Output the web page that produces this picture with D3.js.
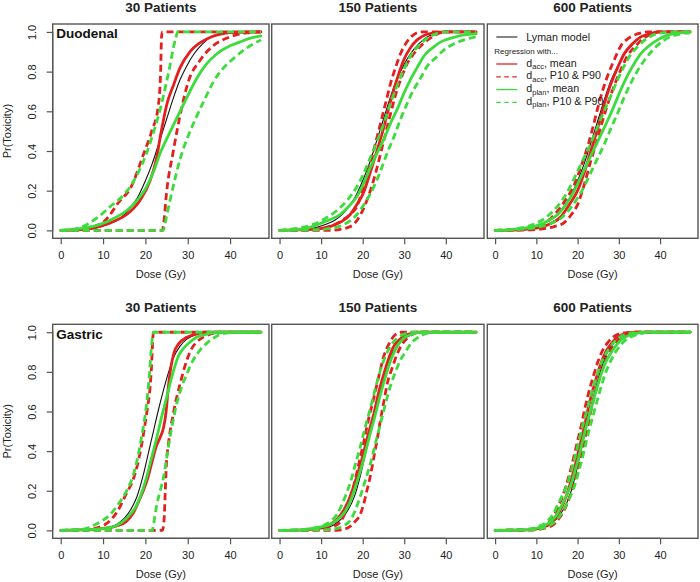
<!DOCTYPE html>
<html><head><meta charset="utf-8">
<script src="https://cdn.jsdelivr.net/npm/d3@7"></script>
<style>
html,body{margin:0;padding:0;background:#fff;}
svg{display:block;font-family:"Liberation Sans",Arial,sans-serif;}
</style></head>
<body><svg id="chart" width="700" height="582"></svg>
<script>
// ---------- labels ----------
const panelTitles = ["30 Patients", "150 Patients", "600 Patients"];
const sites = ["Duodenal", "Gastric"];
const xTicks = [0, 10, 20, 30, 40];
const yTicks = [0, 0.2, 0.4, 0.6, 0.8, 1.0];
const yTickLabels = ["0.0", "0.2", "0.4", "0.6", "0.8", "1.0"];
const xLabel = "Dose (Gy)";
const yLabel = "Pr(Toxicity)";
const xDataRange = [0, 47.3];

// ---------- Lyman model (per site) [dose, probability] ----------
const lymanDuodenal = [[0,0],[5,0.002],[8,0.01],[11,0.03],[13.2,0.05],[15.5,0.09],[18,0.16],[20,0.25],[21.5,0.33],[23.5,0.46],[25,0.56],[26.5,0.66],[28.2,0.76],[29.8,0.83],[31.5,0.89],[33.5,0.94],[35.5,0.975],[38,0.993],[41,1],[47.3,1]];
const lymanGastric = [[0,0],[7,0.002],[10,0.008],[13.2,0.03],[15,0.06],[16.4,0.1],[18,0.17],[19.5,0.28],[20.7,0.39],[21.9,0.5],[23.1,0.61],[24.3,0.71],[25.5,0.8],[26.6,0.87],[28.2,0.93],[29.8,0.965],[31.5,0.985],[33,0.995],[35,1],[47.3,1]];

// ---------- Duodenal, 30 patients ----------
const duo30AccMean = [[0,0],[5,0.004],[9.3,0.02],[13,0.05],[15.6,0.08],[18.7,0.15],[21.1,0.25],[22.7,0.37],[23.5,0.47],[24.3,0.56],[25,0.63],[26.6,0.73],[28.2,0.82],[30.5,0.9],[32.5,0.94],[34.5,0.965],[37,0.985],[40,0.997],[47.3,1]];
const duo30AccP10 = [[0,0],[6,0.01],[10,0.04],[14,0.15],[16.4,0.21],[19.5,0.38],[21.5,0.5],[23,0.62],[23.6,0.8],[23.8,0.97],[24,1],[47.3,1]];
const duo30AccP90 = [[0,0],[24,0],[24.3,0.03],[25,0.19],[26.6,0.4],[28.6,0.62],[30,0.74],[33,0.86],[36,0.93],[40,0.975],[44,0.995],[47.3,1]];
const duo30PlanMean = [[0,0],[5,0.01],[9.3,0.03],[12.5,0.06],[15.6,0.1],[18,0.15],[20.3,0.22],[22,0.3],[23.5,0.39],[25,0.46],[26.6,0.53],[28.2,0.6],[29.8,0.67],[32.1,0.765],[34.5,0.84],[36.9,0.89],[40,0.93],[42.4,0.95],[45,0.97],[47.3,0.98]];
const duo30PlanP10 = [[0,0],[3,0.005],[6.2,0.03],[9,0.07],[11.7,0.12],[14,0.16],[16.4,0.22],[18.5,0.3],[20.3,0.39],[22,0.5],[23.5,0.61],[24.7,0.72],[25.8,0.83],[26.6,0.92],[27.2,0.97],[27.6,1],[47.3,1]];
const duo30PlanP90 = [[0,0],[24.2,0],[25,0.07],[25.8,0.15],[27,0.26],[28.2,0.36],[30,0.47],[32,0.57],[34,0.66],[36.1,0.75],[38.5,0.82],[41,0.87],[44,0.92],[47.3,0.96]];

// ---------- Duodenal, 150 patients ----------
const duo150AccMean = [[0,0],[8,0.005],[12.2,0.02],[15,0.045],[17,0.08],[18.6,0.13],[20.2,0.19],[21.5,0.27],[22.7,0.35],[24,0.44],[25.1,0.52],[26.3,0.62],[27.5,0.71],[28.7,0.79],[29.9,0.86],[31.5,0.92],[33.1,0.96],[35,0.985],[37,0.995],[40,1],[47.3,1]];
const duo150AccP10 = [[0,0],[8,0.003],[12.2,0.02],[15,0.05],[17,0.08],[18.6,0.12],[20.2,0.22],[21.9,0.34],[23.1,0.44],[24.3,0.54],[25.5,0.64],[26.7,0.74],[27.9,0.82],[29.1,0.89],[30.5,0.945],[31.9,0.98],[34,1],[47.3,1]];
const duo150AccP90 = [[0,0],[12,0],[14.6,0.005],[16.5,0.015],[17.8,0.03],[19.5,0.08],[21,0.15],[22.3,0.23],[23.5,0.32],[24.7,0.42],[25.9,0.52],[27.1,0.62],[28.3,0.71],[29.5,0.78],[30.7,0.84],[32.3,0.89],[34,0.93],[36,0.965],[38,0.99],[40,1],[47.3,1]];
const duo150PlanMean = [[0,0],[5,0.005],[8.1,0.02],[11,0.045],[14.6,0.08],[16.6,0.12],[18.6,0.17],[20.3,0.24],[21.9,0.32],[23.5,0.39],[25.1,0.46],[26.7,0.54],[28.3,0.61],[29.9,0.69],[31.5,0.76],[33.1,0.82],[34.8,0.88],[36.8,0.92],[38.8,0.95],[41.5,0.97],[44.4,0.985],[47.3,0.99]];
const duo150PlanP10 = [[0,0],[4,0.01],[8.1,0.03],[11,0.06],[13.8,0.1],[16.2,0.15],[18.6,0.22],[20.3,0.29],[21.9,0.37],[23.5,0.45],[25.1,0.54],[26.7,0.64],[28.3,0.73],[29.9,0.81],[31.5,0.88],[33.5,0.93],[35.6,0.97],[37.6,0.99],[39.6,1],[47.3,1]];
const duo150PlanP90 = [[0,0],[9,0.003],[12.2,0.01],[15.5,0.03],[18.6,0.08],[20.6,0.14],[22.7,0.22],[24.3,0.3],[25.9,0.39],[27.5,0.47],[29.1,0.56],[30.7,0.64],[32.3,0.71],[34,0.77],[35.6,0.83],[37.6,0.87],[39.6,0.91],[42,0.94],[44.4,0.96],[47.3,0.975]];

// ---------- Duodenal, 600 patients ----------
const duo600AccMean = [[0,0],[6,0.003],[10.3,0.012],[13,0.03],[16,0.07],[18,0.13],[20,0.2],[21.6,0.29],[23.2,0.4],[24.4,0.48],[25.6,0.57],[26.8,0.66],[28.1,0.74],[29.7,0.82],[31.3,0.89],[33.3,0.94],[35.3,0.975],[37.5,0.99],[39.4,1],[47.3,1]];
const duo600AccP10 = [[0,0],[6,0.004],[9.5,0.015],[12,0.035],[14.4,0.08],[17,0.15],[19.2,0.23],[20.8,0.32],[22.4,0.42],[23.6,0.51],[24.8,0.61],[26,0.7],[27.3,0.78],[28.9,0.86],[30.5,0.93],[32.5,0.97],[34.5,0.99],[37,1],[47.3,1]];
const duo600AccP90 = [[0,0],[8,0.002],[11.5,0.008],[14.5,0.02],[16.8,0.04],[18.5,0.08],[20,0.13],[21.6,0.23],[23.2,0.35],[24.4,0.43],[25.6,0.52],[27.2,0.63],[28.9,0.73],[30.5,0.81],[32.1,0.88],[34.1,0.93],[36.1,0.97],[38,0.99],[40.2,1],[47.3,1]];
const duo600PlanMean = [[0,0],[5,0.006],[10.3,0.025],[13,0.05],[15.2,0.08],[17.2,0.13],[19.2,0.2],[20.8,0.27],[22.4,0.34],[24,0.41],[25.6,0.48],[27.2,0.55],[28.9,0.63],[30.5,0.71],[32.1,0.78],[33.7,0.84],[35.3,0.89],[37.3,0.93],[39.4,0.96],[42,0.985],[44.2,0.995],[47.3,1]];
const duo600PlanP10 = [[0,0],[5,0.008],[9.3,0.03],[12,0.06],[14.2,0.1],[16.2,0.15],[18.2,0.22],[19.8,0.29],[21.4,0.36],[23,0.43],[24.6,0.51],[26.2,0.59],[27.9,0.67],[29.5,0.75],[31.1,0.82],[32.7,0.88],[34.3,0.92],[36.3,0.96],[38.4,0.985],[41,0.997],[44,1],[47.3,1]];
const duo600PlanP90 = [[0,0],[6,0.005],[11.3,0.02],[14,0.04],[16.2,0.065],[18.2,0.11],[20.2,0.17],[21.8,0.23],[23.4,0.3],[25,0.37],[26.6,0.44],[28.2,0.52],[29.9,0.6],[31.5,0.68],[33.1,0.75],[34.7,0.81],[36.3,0.86],[38.3,0.91],[40.4,0.95],[43,0.98],[45,0.99],[47.3,0.995]];

// ---------- Gastric, 30 patients ----------
const gas30AccMean = [[0,0],[8,0.005],[11,0.012],[13.2,0.022],[15.5,0.045],[17.2,0.09],[18.5,0.15],[19.5,0.2],[20.5,0.26],[21.5,0.34],[22.5,0.42],[23.5,0.47],[24.3,0.52],[24.9,0.6],[25.4,0.72],[26,0.82],[26.8,0.9],[27.8,0.94],[29.8,0.975],[32,0.99],[34,1],[47.3,1]];
const gas30AccP10 = [[0,0],[6,0.005],[9,0.015],[11.7,0.05],[13.5,0.1],[15.6,0.19],[17,0.25],[18,0.32],[19,0.42],[19.8,0.52],[20.5,0.62],[21.1,0.72],[21.5,0.85],[21.7,0.95],[21.9,1],[47.3,1]];
const gas30AccP90 = [[0,0],[24,0],[24.4,0.05],[24.7,0.2],[25,0.35],[25.4,0.43],[26.6,0.59],[28.2,0.74],[29.8,0.86],[31,0.92],[32.1,0.95],[33.7,0.975],[35.3,0.99],[38,1],[47.3,1]];
const gas30PlanMean = [[0,0],[8,0.005],[11,0.012],[13.2,0.025],[15.5,0.06],[18,0.13],[19.3,0.2],[20.3,0.27],[21.5,0.37],[22.7,0.47],[23.8,0.57],[25,0.67],[26.3,0.78],[27.8,0.88],[29.5,0.93],[30.5,0.95],[32.1,0.975],[34.5,0.99],[37,1],[47.3,1]];
const gas30PlanP10 = [[0,0],[5,0.005],[7.7,0.025],[9.5,0.045],[11.7,0.08],[13.5,0.13],[15.6,0.2],[17,0.27],[18,0.35],[19,0.46],[19.8,0.56],[20.5,0.68],[21,0.8],[21.4,0.92],[21.7,0.98],[21.9,1],[47.3,1]];
const gas30PlanP90 = [[0,0],[21.6,0],[22,0.04],[22.7,0.13],[23.5,0.2],[24.3,0.27],[25,0.36],[25.8,0.47],[26.6,0.56],[27.4,0.64],[28.5,0.72],[29.8,0.79],[31.3,0.86],[32.9,0.91],[34.8,0.95],[36.8,0.98],[39,0.995],[41,1],[47.3,1]];

// ---------- Gastric, 150 patients ----------
const gas150AccMean = [[0,0],[6,0.003],[8.1,0.008],[10,0.015],[12.2,0.03],[14,0.06],[15.4,0.1],[16.6,0.15],[17.8,0.22],[19,0.3],[20.2,0.39],[21.4,0.49],[22.7,0.59],[23.9,0.7],[25.1,0.79],[26.3,0.87],[27.5,0.93],[28.7,0.96],[29.9,0.98],[31.5,0.993],[33.1,1],[47.3,1]];
const gas150AccP10 = [[0,0],[8,0.003],[12,0.015],[14,0.03],[15.4,0.07],[16.6,0.14],[17.8,0.22],[19,0.33],[20.2,0.44],[21.4,0.56],[22.7,0.67],[23.9,0.78],[25.1,0.88],[26.3,0.94],[27.5,0.98],[29.1,1],[47.3,1]];
const gas150AccP90 = [[0,0],[13.8,0],[15.5,0.005],[17,0.02],[18.2,0.045],[19.4,0.08],[20.2,0.13],[21,0.2],[21.9,0.28],[22.7,0.37],[23.5,0.46],[24.3,0.56],[25.1,0.65],[25.9,0.74],[27.1,0.82],[28.3,0.89],[29.5,0.94],[30.7,0.97],[32,0.99],[33.5,1],[47.3,1]];
const gas150PlanMean = [[0,0],[6,0.004],[8.1,0.01],[10,0.018],[12.2,0.03],[14,0.055],[15.6,0.09],[16.9,0.14],[18.1,0.21],[19.3,0.29],[20.5,0.38],[21.7,0.48],[23,0.58],[24.2,0.68],[25.4,0.77],[26.6,0.85],[27.8,0.91],[29,0.95],[30.2,0.975],[32,0.99],[34,1],[47.3,1]];
const gas150PlanP10 = [[0,0],[6,0.005],[10.6,0.025],[12.2,0.045],[13.8,0.08],[15.4,0.15],[17,0.24],[18.2,0.33],[19.4,0.42],[20.6,0.52],[21.9,0.62],[23.1,0.72],[24.3,0.81],[25.5,0.88],[26.7,0.93],[28.3,0.97],[29.9,0.99],[32,1],[47.3,1]];
const gas150PlanP90 = [[0,0],[10,0.002],[13.8,0.01],[15.5,0.025],[17,0.05],[18.2,0.1],[19.4,0.17],[20.6,0.25],[21.9,0.34],[23.1,0.44],[24.3,0.54],[25.5,0.64],[26.7,0.73],[27.9,0.8],[29.1,0.86],[30.3,0.9],[31.5,0.94],[33.1,0.97],[34.8,0.99],[37,1],[47.3,1]];

// ---------- Gastric, 600 patients ----------
const gas600AccMean = [[0,0],[8,0.003],[11.1,0.013],[13.5,0.035],[14.8,0.065],[16,0.11],[17.2,0.17],[18.4,0.25],[19.2,0.31],[20,0.38],[20.8,0.45],[21.6,0.52],[22.4,0.6],[23.2,0.67],[24.4,0.76],[25.6,0.84],[26.8,0.9],[28.1,0.94],[29.3,0.97],[30.5,0.985],[32,0.995],[34,1],[47.3,1]];
const gas600AccP10 = [[0,0],[8,0.004],[10.4,0.015],[12.8,0.04],[14.1,0.07],[15.3,0.12],[16.5,0.18],[17.7,0.26],[18.5,0.32],[19.3,0.39],[20.1,0.46],[20.9,0.53],[21.7,0.61],[22.5,0.68],[23.7,0.77],[24.9,0.85],[26.1,0.91],[27.4,0.95],[28.6,0.975],[29.8,0.99],[31.5,0.997],[33.5,1],[47.3,1]];
const gas600AccP90 = [[0,0],[9,0.002],[11.8,0.01],[14.2,0.03],[15.5,0.06],[16.7,0.1],[17.9,0.16],[19.1,0.24],[19.9,0.3],[20.7,0.37],[21.5,0.44],[22.3,0.51],[23.1,0.59],[23.9,0.66],[25.1,0.75],[26.3,0.83],[27.5,0.89],[28.8,0.935],[30,0.965],[31.2,0.983],[32.7,0.994],[35,1],[47.3,1]];
const gas600PlanMean = [[0,0],[7.9,0.004],[11.1,0.017],[13.5,0.045],[14.8,0.075],[16,0.12],[17.4,0.18],[18.7,0.25],[19.5,0.31],[20.3,0.37],[21.1,0.44],[21.9,0.51],[22.7,0.57],[23.5,0.63],[24.7,0.72],[25.9,0.8],[27.1,0.86],[28.4,0.905],[29.6,0.94],[30.8,0.965],[32.5,0.985],[34.5,0.995],[37,1],[47.3,1]];
const gas600PlanP10 = [[0,0],[7,0.004],[10.3,0.018],[12.7,0.047],[14,0.08],[15.2,0.13],[16.6,0.19],[17.9,0.26],[18.7,0.32],[19.5,0.38],[20.3,0.45],[21.1,0.52],[21.9,0.58],[22.7,0.64],[23.9,0.73],[25.1,0.81],[26.3,0.87],[27.6,0.915],[28.8,0.95],[30,0.972],[31.7,0.99],[33.7,0.997],[36,1],[47.3,1]];
const gas600PlanP90 = [[0,0],[9,0.003],[11.9,0.014],[14.3,0.04],[15.6,0.07],[16.8,0.11],[18.2,0.17],[19.5,0.24],[20.3,0.3],[21.1,0.36],[21.9,0.43],[22.7,0.5],[23.5,0.56],[24.3,0.62],[25.5,0.71],[26.7,0.79],[27.9,0.85],[29.2,0.9],[30.4,0.935],[31.6,0.96],[33.3,0.98],[35.3,0.993],[38,1],[47.3,1]];

// ---------- legend ----------
const legendItems = [
  {main: "d", sub: "acc", rest: ", mean", key: "accMean"},
  {main: "d", sub: "acc", rest: ", P10 & P90", key: "accP"},
  {main: "d", sub: "plan", rest: ", mean", key: "planMean"},
  {main: "d", sub: "plan", rest: ", P10 & P90", key: "planP"}
];

// ---------- assemble ----------
const RED = "#e31f1f", GREEN = "#3bdc3b";
const styles = {
  lyman: {color: "#111", w: 1.1, dash: null},
  accMean: {color: RED, w: 2.8, dash: null},
  accP: {color: RED, w: 2.8, dash: "7,4"},
  planMean: {color: GREEN, w: 2.8, dash: null},
  planP: {color: GREEN, w: 2.8, dash: "7,4"}
};
function panelSeries(lyman, am, a10, a90, pm, p10, p90) {
  return [
    {data: lyman, s: "lyman"},
    {data: am, s: "accMean"}, {data: a10, s: "accP"}, {data: a90, s: "accP"},
    {data: pm, s: "planMean"}, {data: p10, s: "planP"}, {data: p90, s: "planP"}
  ];
}
const panelData = [
  [panelSeries(lymanDuodenal, duo30AccMean, duo30AccP10, duo30AccP90, duo30PlanMean, duo30PlanP10, duo30PlanP90),
   panelSeries(lymanDuodenal, duo150AccMean, duo150AccP10, duo150AccP90, duo150PlanMean, duo150PlanP10, duo150PlanP90),
   panelSeries(lymanDuodenal, duo600AccMean, duo600AccP10, duo600AccP90, duo600PlanMean, duo600PlanP10, duo600PlanP90)],
  [panelSeries(lymanGastric, gas30AccMean, gas30AccP10, gas30AccP90, gas30PlanMean, gas30PlanP10, gas30PlanP90),
   panelSeries(lymanGastric, gas150AccMean, gas150AccP10, gas150AccP90, gas150PlanMean, gas150PlanP10, gas150PlanP90),
   panelSeries(lymanGastric, gas600AccMean, gas600AccP10, gas600AccP90, gas600PlanMean, gas600PlanP10, gas600PlanP90)]
];

const svg = d3.select("#chart");
const TXT = "#222";
const colsPx = [[52.7, 269], [271.7, 484], [487.3, 698]];
const rowsPx = [[24, 238.3], [324.3, 538.3]];
const xPad = (xDataRange[1] - xDataRange[0]) * 0.04;
const xDomain = [xDataRange[0] - xPad, xDataRange[1] + xPad];
const yDomain = [-0.04, 1.04];

rowsPx.forEach((rp, ri) => {
  colsPx.forEach((cp, ci) => {
    const x = d3.scaleLinear().domain(xDomain).range(cp);
    const y = d3.scaleLinear().domain(yDomain).range([rp[1], rp[0]]);
    const g = svg.append("g");
    const line = d3.line().x(d => x(d[0])).y(d => y(d[1])).curve(d3.curveMonotoneX);

    // curves
    panelData[ri][ci].forEach(sr => {
      const st = styles[sr.s];
      g.append("path").attr("d", line(sr.data))
        .attr("fill", "none").attr("stroke", st.color)
        .attr("stroke-width", st.w)
        .attr("stroke-dasharray", st.dash)
        .attr("stroke-linecap", st.dash ? "butt" : "round")
        .attr("stroke-linejoin", "round");
    });

    // box
    g.append("rect").attr("x", cp[0]).attr("y", rp[0])
      .attr("width", cp[1] - cp[0]).attr("height", rp[1] - rp[0])
      .attr("fill", "none").attr("stroke", "#555").attr("stroke-width", 1.4);

    // x axis
    const xa = g.append("g").attr("transform", `translate(0,${rp[1]})`)
      .call(d3.axisBottom(x).tickValues(xTicks).tickSize(6).tickPadding(7).tickFormat(d3.format("d")));
    xa.select(".domain").attr("d", `M${x(xTicks[0])},0H${x(xTicks[xTicks.length-1])}`).attr("stroke", "#555").attr("stroke-width", 1.2);
    xa.selectAll(".tick line").attr("stroke", "#555").attr("stroke-width", 1.2);
    xa.selectAll(".tick text").attr("fill", TXT).style("font-size", "11px")
      .style("font-family", "'Liberation Sans',Arial,sans-serif");

    g.append("text").attr("x", (cp[0] + cp[1]) / 2).attr("y", rp[1] + 40)
      .attr("text-anchor", "middle").attr("fill", TXT).style("font-size", "11px").text(xLabel);

    // title
    g.append("text").attr("x", (cp[0] + cp[1]) / 2).attr("y", rp[0] - 12.3)
      .attr("text-anchor", "middle").attr("fill", TXT)
      .style("font-size", "13.5px").style("font-weight", "bold").text(panelTitles[ci]);

    if (ci === 0) {
      const ya = g.append("g").attr("transform", `translate(${cp[0]},0)`)
        .call(d3.axisLeft(y).tickValues(yTicks).tickSize(6).tickFormat((d, i) => yTickLabels[i]));
      ya.select(".domain").attr("d", `M0,${y(0)}V${y(1)}`).attr("stroke", "#555").attr("stroke-width", 1.2);
      ya.selectAll(".tick line").attr("stroke", "#555").attr("stroke-width", 1.2);
      ya.selectAll(".tick text").attr("fill", TXT).style("font-size", "11px")
        .style("font-family", "'Liberation Sans',Arial,sans-serif")
        .attr("x", null).attr("dy", null).attr("text-anchor", "middle")
        .attr("transform", "translate(-16.5,0) rotate(-90)");
      g.append("text").attr("transform", `translate(10.5,${(rp[0] + rp[1]) / 2}) rotate(-90)`)
        .attr("text-anchor", "middle").attr("fill", TXT).style("font-size", "11px").text(yLabel);
      g.append("text").attr("x", cp[0] + 3.5).attr("y", rp[0] + 14.2)
        .attr("fill", "#111").style("font-size", "13.5px").style("font-weight", "bold").text(sites[ri]);
    }

    if (ri === 0 && ci === 2) {
      const lx0 = cp[0] + 9, lx1 = cp[0] + 30, tx = cp[0] + 39;
      g.append("line").attr("x1", lx0).attr("x2", lx1).attr("y1", 37).attr("y2", 37)
        .attr("stroke", "#222").attr("stroke-width", 1.1);
      g.append("text").attr("x", tx).attr("y", 41).attr("fill", TXT).style("font-size", "10.7px").text("Lyman model");
      g.append("text").attr("x", cp[0] + 7).attr("y", 54).attr("fill", TXT).style("font-size", "8px").text("Regression with...");
      legendItems.forEach((it, i) => {
        const ly = 64 + i * 12.8;
        const st = styles[it.key];
        g.append("line").attr("x1", lx0).attr("x2", lx1).attr("y1", ly).attr("y2", ly)
          .attr("stroke", st.color).attr("stroke-width", 1.3)
          .attr("stroke-dasharray", st.dash ? "4.5,3.5" : null);
        const t = g.append("text").attr("x", tx).attr("y", ly + 2.5).attr("fill", TXT).style("font-size", "10.7px");
        t.append("tspan").text(it.main);
        t.append("tspan").attr("dy", 2.5).style("font-size", "7.5px").text(it.sub);
        t.append("tspan").attr("dy", -2.5).text(it.rest);
      });
    }
  });
});
</script></body></html>
